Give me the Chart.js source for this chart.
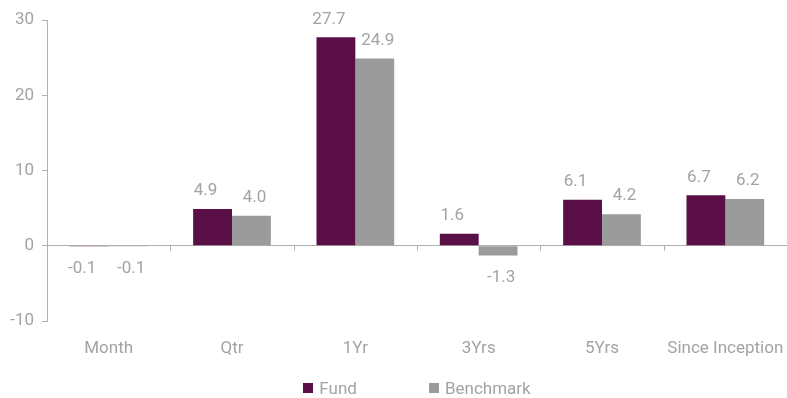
<!DOCTYPE html>
<html><head><meta charset="utf-8">
<script src="https://cdn.jsdelivr.net/npm/chart.js@4/dist/chart.umd.min.js"></script>
<style>html,body{margin:0;padding:0;background:#fff}#w{width:787px;height:398px}</style>
</head><body><div id="w"><canvas id="c"></canvas></div>
<script>
const categories = ["Month", "Qtr", "1Yr", "3Yrs", "5Yrs", "Since Inception"];
const fund = [-0.1, 4.9, 27.7, 1.6, 6.1, 6.7];
const benchmark = [-0.1, 4.0, 24.9, -1.3, 4.2, 6.2];
const yTicks = [-10, 0, 10, 20, 30];

const FONT = "Roboto";
const FS = 17;
const TXT = "#a3a3a3";
const LINE = "#b0b0b0";

const valueLabels = {
  id: 'valueLabels',
  afterDatasetsDraw(chart) {
    const ctx = chart.ctx;
    ctx.save();
    ctx.font = FS + "px " + FONT;
    ctx.fillStyle = TXT;
    ctx.textAlign = 'center';
    ctx.textBaseline = 'middle';
    chart.data.datasets.forEach((ds, di) => {
      const meta = chart.getDatasetMeta(di);
      const dx = di === 0 ? -7 : 3;
      meta.data.forEach((bar, i) => {
        const v = ds.data[i];
        const top = Math.min(bar.y, bar.base), bot = Math.max(bar.y, bar.base);
        const y = v >= 0 ? top - 18 : bot + 22;
        ctx.fillText(v.toFixed(1), bar.x + dx, y);
      });
    });
    ctx.restore();
  }
};

const catTicks = {
  id: 'catTicks',
  afterDraw(chart) {
    const x = chart.scales.x, y = chart.scales.y, ctx = chart.ctx;
    const y0 = y.getPixelForValue(0);
    ctx.save();
    ctx.strokeStyle = LINE; ctx.lineWidth = 1;
    for (let i = 1; i < categories.length; i++) {
      const px = Math.round((x.getPixelForValue(i - 1) + x.getPixelForValue(i)) / 2) + 0.5;
      ctx.beginPath(); ctx.moveTo(px, y0); ctx.lineTo(px, y0 + 5); ctx.stroke();
    }
    ctx.restore();
  }
};

const customLegend = {
  id: 'customLegend',
  afterDraw(chart) {
    const ctx = chart.ctx, ca = chart.chartArea;
    ctx.save();
    ctx.font = FS + "px " + FONT;
    ctx.textBaseline = 'middle';
    ctx.textAlign = 'left';
    const box = 10, gap = 6, spacing = 72;
    const items = chart.data.datasets.map(d => ({ label: d.label, color: d.backgroundColor, w: ctx.measureText(d.label).width }));
    const total = items.reduce((s, it) => s + box + gap + it.w, 0) + spacing * (items.length - 1);
    let x = (ca.left + ca.right) / 2 - total / 2;
    const yc = 388;
    items.forEach(it => {
      ctx.fillStyle = it.color;
      ctx.fillRect(Math.round(x), yc - 5, box, box);
      ctx.fillStyle = TXT;
      ctx.fillText(it.label, x + box + gap, yc + 2);
      x += box + gap + it.w + spacing;
    });
    ctx.restore();
  }
};

new Chart(document.getElementById('c'), {
  type: 'bar',
  data: {
    labels: categories,
    datasets: [
      { label: 'Fund', data: fund, backgroundColor: '#5a1046', categoryPercentage: 0.63, barPercentage: 1.0 },
      { label: 'Benchmark', data: benchmark, backgroundColor: '#9b9b9b', categoryPercentage: 0.63, barPercentage: 1.0 }
    ]
  },
  options: {
    responsive: true, maintainAspectRatio: false, animation: false,
    layout: { padding: { top: 20, right: 0, left: 0, bottom: 25 } },
    plugins: {
      tooltip: { enabled: false },
      legend: { display: false }
    },
    scales: {
      x: {
        afterFit(s) { s.height = 52; s.paddingLeft = 0; s.paddingRight = 0; },
        grid: { display: false },
        border: { display: false },
        ticks: { color: TXT, font: { family: FONT, size: FS }, padding: 10, maxRotation: 0, autoSkip: false }
      },
      y: {
        min: -10, max: 30,
        afterBuildTicks(s) { s.ticks = yTicks.map(v => ({ value: v })); },
        afterFit(s) { s.width = 47; },
        grid: {
          color: c => c.tick && c.tick.value === 0 ? LINE : 'rgba(0,0,0,0)',
          tickColor: LINE, tickLength: 5, drawTicks: true
        },
        border: { display: true, color: LINE },
        ticks: { color: TXT, font: { family: FONT, size: FS }, padding: 8 }
      }
    }
  },
  plugins: [valueLabels, catTicks, customLegend]
});
</script></body></html>
